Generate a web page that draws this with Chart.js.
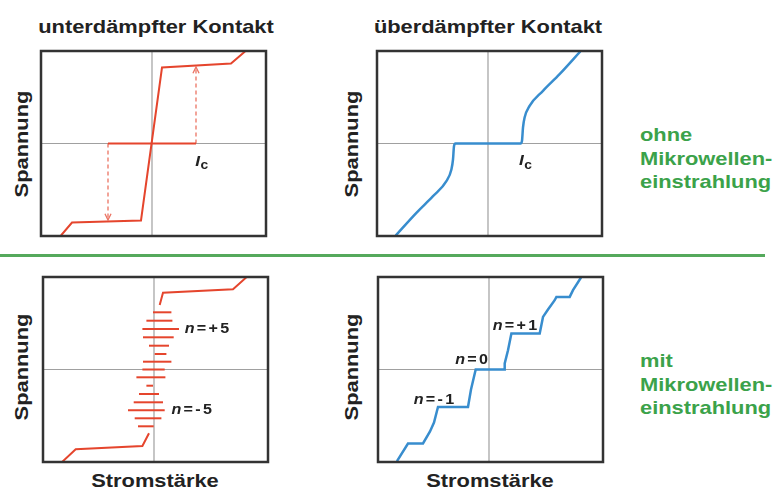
<!DOCTYPE html>
<html lang="de">
<head>
<meta charset="utf-8">
<script src="https://cdn.jsdelivr.net/npm/chart.js@4.4.1/dist/chart.umd.min.js"></script>
<style>
  body { margin: 0; width: 776px; height: 489px; background: #fff; position: relative; overflow: hidden;
         font-family: "Liberation Sans", Arial, sans-serif; }
  .panel { position: absolute; width: 231px; height: 191px; }
  .txt { position: absolute; font-weight: bold; font-size: 19px; line-height: 19px; color: #222; white-space: nowrap; }
  .title, .xlab { transform: translateX(-50%) scaleX(1.15); }
  .ylab { transform: translate(-50%, -50%) rotate(-90deg) scaleX(1.15); }
  .green { color: #3ba24a; line-height: 23.5px; transform: scaleX(1.15); transform-origin: 0 0; }
  #divider { position: absolute; left: 0; top: 254px; width: 765px; height: 3px; background: #55a95c; }
</style>
</head>
<body>
  <div class="txt title" style="left:156px; top:17px;">unterdämpfter Kontakt</div>
  <div class="txt title" style="left:488px; top:17px;">überdämpfter Kontakt</div>

  <div class="txt ylab" style="left:21px; top:143.5px;">Spannung</div>
  <div class="txt ylab" style="left:351px; top:143.5px;">Spannung</div>
  <div class="txt ylab" style="left:21px; top:366.5px;">Spannung</div>
  <div class="txt ylab" style="left:351px; top:367px;">Spannung</div>

  <div class="txt xlab" style="left:155px; top:471px;">Stromstärke</div>
  <div class="txt xlab" style="left:490px; top:471px;">Stromstärke</div>

  <div class="txt green" style="left:640px; top:123px;">ohne<br>Mikrowellen-<br>einstrahlung</div>
  <div class="txt green" style="left:640px; top:349px;">mit<br>Mikrowellen-<br>einstrahlung</div>

  <div id="divider"></div>

  <div class="panel" style="left:38px; top:48px;"><canvas id="underChart"></canvas></div>
  <div class="panel" style="left:374px; top:48px;"><canvas id="overChart"></canvas></div>
  <div class="panel" style="left:40px; top:274px;"><canvas id="underRfChart"></canvas></div>
  <div class="panel" style="left:375px; top:274px;"><canvas id="overRfChart"></canvas></div>

<script>
// === Daten (Strom x / Spannung y, beliebige Einheiten, Nullpunkt = Achsenkreuz) ===

// unterdämpfter Kontakt, ohne Mikrowellen
const underX = [-0.91, -0.80, -0.11, 0.10, 0.79, 0.93];
const underY = [-0.92, -0.79, -0.77, 0.76, 0.80, 0.92];
const underZeroX = [-0.44, 0.44];
const underZeroY = [0, 0];
const jumpUpX = [0.44, 0.44];
const jumpUpY = [0, 0.765];
const jumpDownX = [-0.44, -0.44];
const jumpDownY = [0, -0.765];

// überdämpfter Kontakt, ohne Mikrowellen
const overX = [-0.923, -0.716, -0.55, -0.416, -0.366, -0.35, -0.34, -0.326, 0.326, 0.34, 0.35, 0.366, 0.416, 0.55, 0.716, 0.923];
const overY = [-0.92, -0.693, -0.527, -0.377, -0.26, -0.16, -0.027, 0, 0, 0.027, 0.16, 0.26, 0.377, 0.527, 0.693, 0.92];

// unterdämpfter Kontakt, mit Mikrowellen (Shapiro-Stufen)
const rfTopX = [0.057, 0.09, 0.79, 0.924];
const rfTopY = [0.645, 0.768, 0.802, 0.922];
const rfBottomX = [-0.916, -0.783, -0.116, -0.05];
const rfBottomY = [-0.922, -0.798, -0.765, -0.638];
const stepY = [0.572, 0.488, 0.405, 0.322, 0.238, 0.155, 0.078, 0, -0.078, -0.162, -0.245, -0.328, -0.408, -0.488, -0.568];
const stepLeft = [-0.01, -0.076, -0.116, -0.11, -0.05, 0.007, -0.11, -0.116, -0.176, -0.076, -0.15, -0.203, -0.26, -0.193, -0.16];
const stepRight = [0.174, 0.184, 0.25, 0.197, 0.15, 0.124, 0.174, 0.107, 0.114, -0.01, 0.05, 0.09, 0.107, 0.074, -0.003];

// überdämpfter Kontakt, mit Mikrowellen
const shapiroX = [-0.92, -0.81, -0.66, -0.59, -0.55, -0.51, -0.21, -0.18, -0.133, 0.15, 0.157, 0.19, 0.224, 0.507, 0.54, 0.59, 0.657, 0.674, 0.807, 0.84, 0.92];
const shapiroY = [-0.917, -0.74, -0.74, -0.62, -0.53, -0.374, -0.374, -0.20, 0, 0, 0.06, 0.193, 0.36, 0.36, 0.526, 0.60, 0.693, 0.726, 0.726, 0.793, 0.92];

// Beschriftungen
const icLabel = 'I';
const icSub = 'c';
const underRfLabels = ['n=+5', 'n=-5'];
const overRfLabels = ['n=-1', 'n=0', 'n=+1'];

document.addEventListener('DOMContentLoaded', () => {
    const FONT = '"Liberation Sans", Arial, sans-serif';
    const RED = 'rgb(229, 69, 45)';
    const RED_DASH = 'rgba(232, 90, 70, 0.85)';
    const BLUE = 'rgb(56, 141, 206)';

    const toPoints = (xs, ys) => xs.map((x, i) => ({ x: x, y: ys[i] }));

    // === Beschriftung im Diagramm (n kursiv, I_c mit Index) ===
    const drawLabel = (ctx, lab, px, py) => {
        const pieces = [];
        if (lab.sub) {
            pieces.push({ t: lab.text, font: `italic bold 15px ${FONT}`, dy: 0 });
            pieces.push({ t: lab.sub, font: `bold 12px ${FONT}`, dy: 4 });
        } else {
            lab.text.split('').forEach((c, i) => {
                pieces.push({ t: c, font: `${i === 0 ? 'italic ' : ''}bold 14px ${FONT}`, dy: 0 });
            });
        }
        const gap = lab.sub ? 0.5 : 2;
        let w = 0;
        pieces.forEach((p, i) => {
            ctx.font = p.font;
            p.w = ctx.measureText(p.t).width;
            w += p.w + (i ? gap : 0);
        });
        ctx.save();
        ctx.translate(px, py);
        ctx.scale(1.15, 1);
        ctx.fillStyle = '#222';
        ctx.textBaseline = 'middle';
        let cx = lab.align === 'right' ? -w : 0;
        pieces.forEach(p => {
            ctx.font = p.font;
            ctx.fillText(p.t, cx, p.dy);
            cx += p.w + gap;
        });
        ctx.restore();
    };

    // === Rahmen, Achsenkreuz, Pfeilspitzen, Texte ===
    const framePlugin = {
        id: 'frame',
        beforeDatasetsDraw(chart) {
            const { ctx, chartArea: a, scales: { x, y } } = chart;
            const x0 = x.getPixelForValue(0);
            const y0 = y.getPixelForValue(0);
            ctx.save();
            ctx.strokeStyle = '#a0a0a0';
            ctx.lineWidth = 1.2;
            ctx.beginPath();
            ctx.moveTo(x0, a.top); ctx.lineTo(x0, a.bottom);
            ctx.moveTo(a.left, y0); ctx.lineTo(a.right, y0);
            ctx.stroke();
            ctx.restore();
        },
        afterDatasetsDraw(chart, args, opts) {
            const { ctx, chartArea: a, scales: { x, y } } = chart;
            ctx.save();
            // Pfeilspitzen am Ende gestrichelter Sprünge
            chart.data.datasets.forEach(ds => {
                if (!ds.arrow) return;
                const n = ds.data.length;
                const tip = ds.data[n - 1], from = ds.data[n - 2];
                const tx = x.getPixelForValue(tip.x), ty = y.getPixelForValue(tip.y);
                const ang = Math.atan2(ty - y.getPixelForValue(from.y), tx - x.getPixelForValue(from.x));
                ctx.strokeStyle = ds.borderColor;
                ctx.lineWidth = 1.3;
                ctx.setLineDash([]);
                ctx.beginPath();
                ctx.moveTo(tx - 7 * Math.cos(ang - 0.45), ty - 7 * Math.sin(ang - 0.45));
                ctx.lineTo(tx, ty);
                ctx.lineTo(tx - 7 * Math.cos(ang + 0.45), ty - 7 * Math.sin(ang + 0.45));
                ctx.stroke();
            });
            ctx.strokeStyle = '#333';
            ctx.lineWidth = 2.5;
            ctx.strokeRect(a.left, a.top, a.right - a.left, a.bottom - a.top);
            ctx.restore();
            (opts.labels || []).forEach(lab => {
                drawLabel(ctx, lab, x.getPixelForValue(lab.x), y.getPixelForValue(lab.y));
            });
        }
    };

    const makeChart = (id, datasets, labels) => new Chart(document.getElementById(id), {
        type: 'scatter',
        data: { datasets: datasets },
        options: {
            responsive: true,
            maintainAspectRatio: false,
            animation: false,
            layout: { padding: 3 },
            elements: { point: { radius: 0 } },
            scales: {
                x: { type: 'linear', min: -1.11, max: 1.14, display: false },
                y: { type: 'linear', min: -0.925, max: 0.925, display: false }
            },
            plugins: {
                legend: { display: false },
                tooltip: { enabled: false },
                frame: { labels: labels }
            }
        },
        plugins: [framePlugin]
    });

    const line = (pts, color, width, extra) => Object.assign({
        data: pts, showLine: true, borderColor: color, borderWidth: width, tension: 0, pointRadius: 0
    }, extra || {});

    // 1. unterdämpft, ohne Mikrowellen
    makeChart('underChart', [
        line(toPoints(underX, underY), RED, 2),
        line(toPoints(underZeroX, underZeroY), RED, 2),
        line(toPoints(jumpUpX, jumpUpY), RED_DASH, 1.3, { borderDash: [4, 3], arrow: true }),
        line(toPoints(jumpDownX, jumpDownY), RED_DASH, 1.3, { borderDash: [4, 3], arrow: true })
    ], [{ text: icLabel, sub: icSub, x: 0.432, y: -0.185 }]);

    // 2. überdämpft, ohne Mikrowellen
    makeChart('overChart', [
        line(toPoints(overX, overY), BLUE, 2.5, { cubicInterpolationMode: 'monotone' })
    ], [{ text: icLabel, sub: icSub, x: 0.31, y: -0.178 }]);

    // 3. unterdämpft, mit Mikrowellen
    const stepSets = stepY.map((v, i) => line(toPoints([stepLeft[i], stepRight[i]], [v, v]), RED, 2));
    makeChart('underRfChart', [
        line(toPoints(rfTopX, rfTopY), RED, 2),
        line(toPoints(rfBottomX, rfBottomY), RED, 2),
        ...stepSets
    ], [
        { text: underRfLabels[0], x: 0.307, y: 0.405 },
        { text: underRfLabels[1], x: 0.174, y: -0.408 }
    ]);

    // 4. überdämpft, mit Mikrowellen
    makeChart('overRfChart', [
        line(toPoints(shapiroX, shapiroY), BLUE, 2.5)
    ], [
        { text: overRfLabels[0], x: -0.753, y: -0.307 },
        { text: overRfLabels[1], x: -0.01, y: 0.093, align: 'right' },
        { text: overRfLabels[2], x: 0.037, y: 0.433 }
    ]);
});
</script>
</body>
</html>
